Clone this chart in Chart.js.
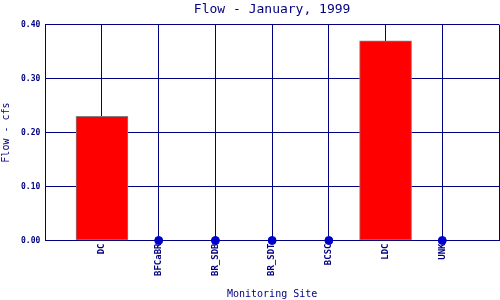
<!DOCTYPE html>
<html>
<head>
<meta charset="utf-8">
<script src="https://cdn.jsdelivr.net/npm/chart.js@4"></script>
<style>
  html, body { margin: 0; padding: 0; background: #ffffff; }
  #wrap { width: 500px; height: 300px; }
</style>
</head>
<body>
<div id="wrap"><canvas id="grafica" width="500" height="300"></canvas></div>
<script>
// DATOS
const sites = ["DC", "BFCaBR", "BR_SDB", "BR_SDT", "BCSC", "LDC", "UNK"];
const flow = [0.23, 0, 0, 0, 0, 0.37, 0];
const yTicks = [0.00, 0.10, 0.20, 0.30, 0.40];

const navy = "#000080";
const mono = "'DejaVu Sans Mono', 'Liberation Mono', monospace";

// barras con valor, puntos donde es cero
const barData = [];
const dotData = [];
flow.forEach((v, i) => {
    if (v > 0) barData.push({ x: i + 1, y: v });
    else dotData.push({ x: i + 1, y: 0 });
});

new Chart(document.getElementById("grafica"), {
    type: "bar",
    data: {
        datasets: [
            {
                type: "bar",
                data: barData,
                backgroundColor: "#ff0000",
                borderColor: "#808080",
                borderWidth: 1,
                borderSkipped: false,
                barThickness: 52
            },
            {
                type: "scatter",
                data: dotData,
                backgroundColor: "#0000cc",
                borderColor: "#0000cc",
                pointRadius: 4,
                clip: false
            }
        ]
    },
    options: {
        responsive: false,
        animation: false,
        layout: { autoPadding: false, padding: { left: 0, right: 1, top: 0, bottom: 0 } },
        plugins: {
            legend: { display: false },
            tooltip: { enabled: false },
            title: {
                display: true,
                fullSize: false,
                text: "Flow - January, 1999",
                color: navy,
                font: { family: mono, size: 13, weight: "normal" },
                padding: { top: 2, bottom: 7 }
            }
        },
        scales: {
            x: {
                type: "linear",
                min: 0,
                max: sites.length + 1,
                offset: false,
                afterBuildTicks: axis => {
                    axis.ticks = [];
                    for (let i = 0; i <= sites.length + 1; i++) axis.ticks.push({ value: i });
                },
                afterFit: axis => {
                    // sin hueco a los lados
                    axis.paddingLeft = 0;
                    axis.paddingRight = 0;
                },
                ticks: {
                    color: navy,
                    autoSkip: false,
                    maxRotation: 90,
                    minRotation: 90,
                    padding: 3,
                    font: { family: mono, size: 9, weight: "bold" },
                    callback: v => sites[v - 1] || ""
                },
                grid: { color: navy, offset: false, drawTicks: false },
                border: { color: navy },
                title: {
                    display: true,
                    text: "Monitoring Site",
                    color: navy,
                    font: { family: mono, size: 10 },
                    padding: { top: 9, bottom: 0 }
                }
            },
            y: {
                min: 0,
                max: 0.4,
                afterBuildTicks: axis => {
                    axis.ticks = yTicks.map(v => ({ value: v }));
                },
                ticks: {
                    color: navy,
                    padding: 5,
                    font: { family: mono, size: 8, weight: "bold" },
                    callback: v => v.toFixed(2)
                },
                grid: { color: navy, drawTicks: false },
                border: { color: navy },
                title: {
                    display: true,
                    text: "Flow - cfs",
                    color: navy,
                    font: { family: mono, size: 10 },
                    padding: { top: 0, bottom: 4 }
                }
            }
        }
    }
});
</script>
</body>
</html>
